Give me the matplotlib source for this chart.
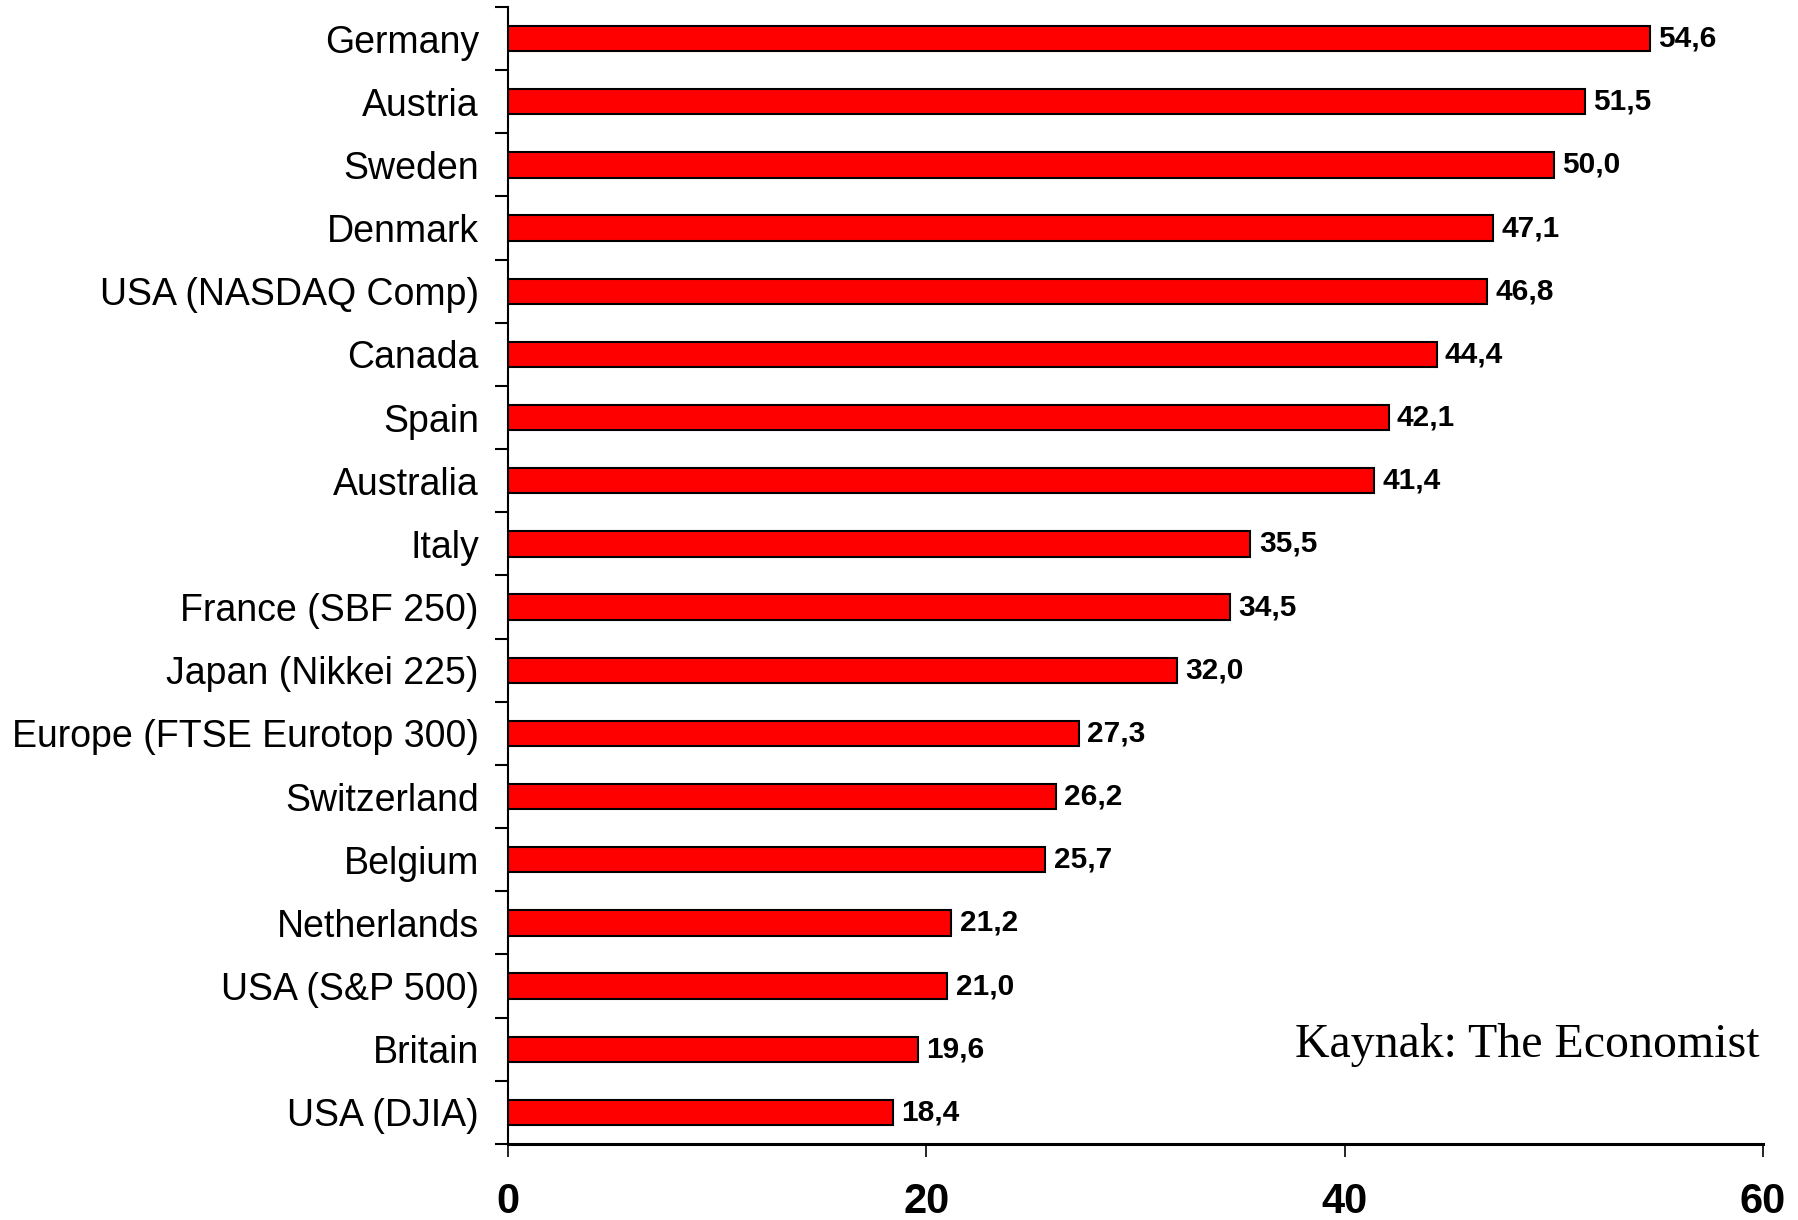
import numpy as np
import matplotlib
matplotlib.use("Agg")
import matplotlib.pyplot as plt
from matplotlib.ticker import FixedLocator

categories = ["Germany", "Austria", "Sweden", "Denmark", "USA (NASDAQ Comp)",
              "Canada", "Spain", "Australia", "Italy", "France (SBF 250)",
              "Japan (Nikkei 225)", "Europe (FTSE Eurotop 300)", "Switzerland",
              "Belgium", "Netherlands", "USA (S&P 500)", "Britain", "USA (DJIA)"]
values = [54.6, 51.5, 50.0, 47.1, 46.8, 44.4, 42.1, 41.4, 35.5, 34.5,
          32.0, 27.3, 26.2, 25.7, 21.2, 21.0, 19.6, 18.4]
x_ticks = [0, 20, 40, 60]
source_note = "Kaynak: The Economist"

plt.rcParams['font.family'] = ['Liberation Sans', 'DejaVu Sans']

fig = plt.figure(figsize=(17.98, 12.2), dpi=100)
ax = fig.add_axes([0.2825, 0.0623, 0.698, 0.932])

y = np.arange(len(categories))
ax.barh(y, values, height=0.4, color="#ff0000", edgecolor="black", linewidth=1.5)

for yi, v in zip(y, values):
    ax.annotate(f"{v:.1f}".replace(".", ","), (v, yi), xytext=(6, 0),
                textcoords="offset points", va="center", ha="left",
                fontsize=21.5, fontweight="bold")

ax.set_ylim(len(categories) - 0.5, -0.5)
ax.set_xlim(0, 60)
ax.set_yticks(y)
ax.set_yticklabels(categories, fontsize=27)
ax.yaxis.set_minor_locator(FixedLocator(np.arange(len(categories) + 1) - 0.5))
ax.tick_params(axis="y", which="major", length=0, pad=21)
ax.tick_params(axis="y", which="minor", length=9.5, width=1.5)

ax.set_xticks(x_ticks)
ax.set_xticklabels([str(t) for t in x_ticks], fontsize=30, fontweight="bold")
ax.tick_params(axis="x", which="major", length=9.5, width=1.2, pad=18)

for s in ["top", "right"]:
    ax.spines[s].set_visible(False)
ax.spines["left"].set_linewidth(1.5)
ax.spines["bottom"].set_linewidth(2.2)

ax.text(0.9976, 0.0875, source_note, transform=ax.transAxes, ha="right", va="center",
        fontsize=34.5, family="Liberation Serif")

fig.savefig("out.png", dpi=100)
